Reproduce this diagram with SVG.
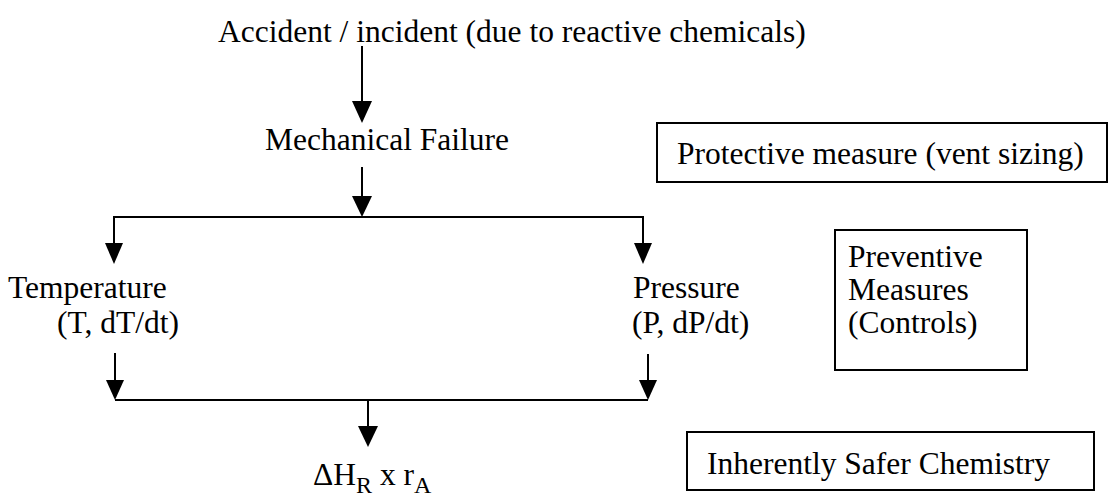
<svg xmlns="http://www.w3.org/2000/svg" width="1109" height="496" viewBox="0 0 1109 496" font-family="'Liberation Serif', 'DejaVu Serif', serif">
<style>
text{font-family:'Liberation Serif','DejaVu Serif',serif;font-size:31.5px;fill:#000}
.ln{stroke:#000;stroke-width:2;fill:none}
.box{stroke:#000;stroke-width:2;fill:#fff}
.sub{font-size:24px}
</style>
<rect width="1109" height="496" fill="#fff"/>
<g id="connectors">
<line class="ln" x1="362" y1="46" x2="362" y2="101"/>
<path d="M352,101 L372,101 L362,123 Z"/>
<line class="ln" x1="362" y1="167" x2="362" y2="196"/>
<path d="M352,196 L372,196 L362,217 Z"/>
<polyline class="ln" points="114,245 114,217 643,217 643,245"/>
<path d="M105,243 L123,243 L114,264 Z"/>
<path d="M634,243 L652,243 L643,264 Z"/>
<line class="ln" x1="115" y1="353" x2="115" y2="381"/>
<path d="M106,380 L124,380 L115,400 Z"/>
<line class="ln" x1="648" y1="354" x2="648" y2="381"/>
<path d="M639,380 L657,380 L648,400 Z"/>
<line class="ln" x1="115" y1="400" x2="648" y2="400"/>
<line class="ln" x1="368" y1="400" x2="368" y2="427"/>
<path d="M358,426 L378,426 L368,447 Z"/>
</g>
<g id="n-accident"><text x="218" y="42">Accident / incident (due to reactive chemicals)</text></g>
<g id="n-mech"><text x="265" y="150">Mechanical Failure</text></g>
<g id="n-temp"><text x="8" y="298">Temperature</text><text x="57" y="333">(T, dT/dt)</text></g>
<g id="n-press"><text x="633" y="298">Pressure</text><text x="632" y="333">(P, dP/dt)</text></g>
<g id="n-dh"><text x="313" y="485">ΔH<tspan class="sub" dy="8">R</tspan><tspan dy="-8"> x r</tspan><tspan class="sub" dy="8">A</tspan></text></g>
<g id="n-protective"><rect class="box" x="657" y="123" width="450" height="59"/><text x="677" y="164">Protective measure (vent sizing)</text></g>
<g id="n-preventive"><rect class="box" x="835" y="230" width="192" height="140"/><text x="848" y="267">Preventive</text><text x="848" y="300">Measures</text><text x="848" y="333">(Controls)</text></g>
<g id="n-inherent"><rect class="box" x="687" y="432" width="407" height="58"/><text x="707" y="474">Inherently Safer Chemistry</text></g>
</svg>
